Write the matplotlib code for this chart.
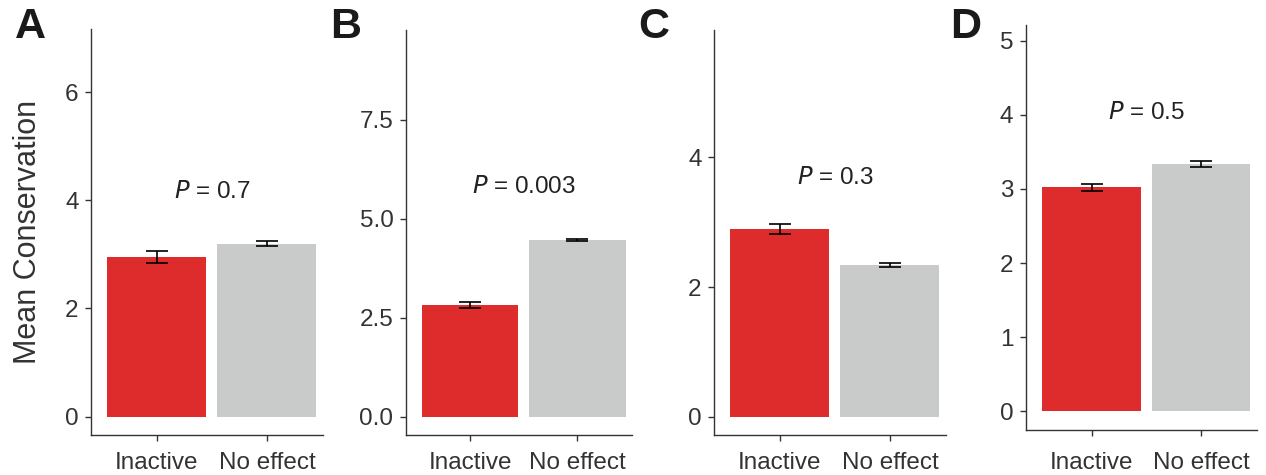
import matplotlib.pyplot as plt

plt.rcParams['font.family'] = ['Liberation Sans', 'DejaVu Sans']

categories = ['Inactive', 'No effect']
panel_labels = ['A', 'B', 'C', 'D']
means_a = [2.955, 3.20]
errs_a = [0.115, 0.046]
means_b = [2.83, 4.47]
errs_b = [0.075, 0.018]
means_c = [2.89, 2.34]
errs_c = [0.077, 0.03]
means_d = [3.02, 3.34]
errs_d = [0.05, 0.04]
p_values = ['0.7', '0.003', '0.3', '0.5']
yticks_a = [0, 2, 4, 6]
yticks_b = [0.0, 2.5, 5.0, 7.5]
yticks_c = [0, 2, 4]
yticks_d = [0, 1, 2, 3, 4, 5]

colors = ['#de2b2b', '#c9caca']
axis_color = '#333333'

W, H = 1266, 475
fig = plt.figure(figsize=(W / 100, H / 100), dpi=100)

# pixel boxes: left, right, top, bottom
boxes = [(91, 323, 29, 435), (406, 632, 30, 435), (714, 946, 30, 435), (1026, 1257, 25, 430)]
ylims = [(-0.34, 7.17), (-0.46, 9.77), (-0.28, 5.96), (-0.25, 5.21)]
p_y = [4.16, 5.81, 3.68, 4.02]
xpad = [8, 8, 8, 12]
data = [(means_a, errs_a, yticks_a, '{:g}'),
        (means_b, errs_b, yticks_b, '{:.1f}'),
        (means_c, errs_c, yticks_c, '{:g}'),
        (means_d, errs_d, yticks_d, '{:g}')]

for i, (l, r, t, b) in enumerate(boxes):
    ax = fig.add_axes([l / W, 1 - b / H, (r - l) / W, (b - t) / H])
    means, errs, yt, fmt = data[i]
    x = range(len(categories))
    ax.bar(x, means, width=0.9, color=colors)
    ax.errorbar(x, means, yerr=errs, fmt='none', ecolor='black',
                elinewidth=1.2, capsize=8, capthick=1.2)
    ax.set_xlim(-0.6, 1.51)
    ax.set_ylim(*ylims[i])
    ax.set_xticks(list(x))
    ax.set_xticklabels(categories)
    ax.set_yticks(yt)
    ax.set_yticklabels([fmt.format(v) for v in yt])
    for s in ['top', 'right']:
        ax.spines[s].set_visible(False)
    for s in ['left', 'bottom']:
        ax.spines[s].set_color(axis_color)
        ax.spines[s].set_linewidth(1.0)
    ax.tick_params(colors=axis_color, labelsize=17.5, length=4, width=1.0, pad=5)
    ax.tick_params(axis='x', pad=xpad[i])
    ax.text(0.5, p_y[i], r'$\it{P}$ = ' + p_values[i], ha='center', va='center',
            fontsize=17.5, color='#222222')
    if i == 0:
        ax.set_ylabel('Mean Conservation', fontsize=22, color=axis_color, labelpad=16)
    fig.text((l - 76) / W, 1 - 27 / H, panel_labels[i], fontsize=31,
             fontweight='bold', ha='left', va='center', color='#1a1a1a')

fig.savefig('out.png', dpi=100)
